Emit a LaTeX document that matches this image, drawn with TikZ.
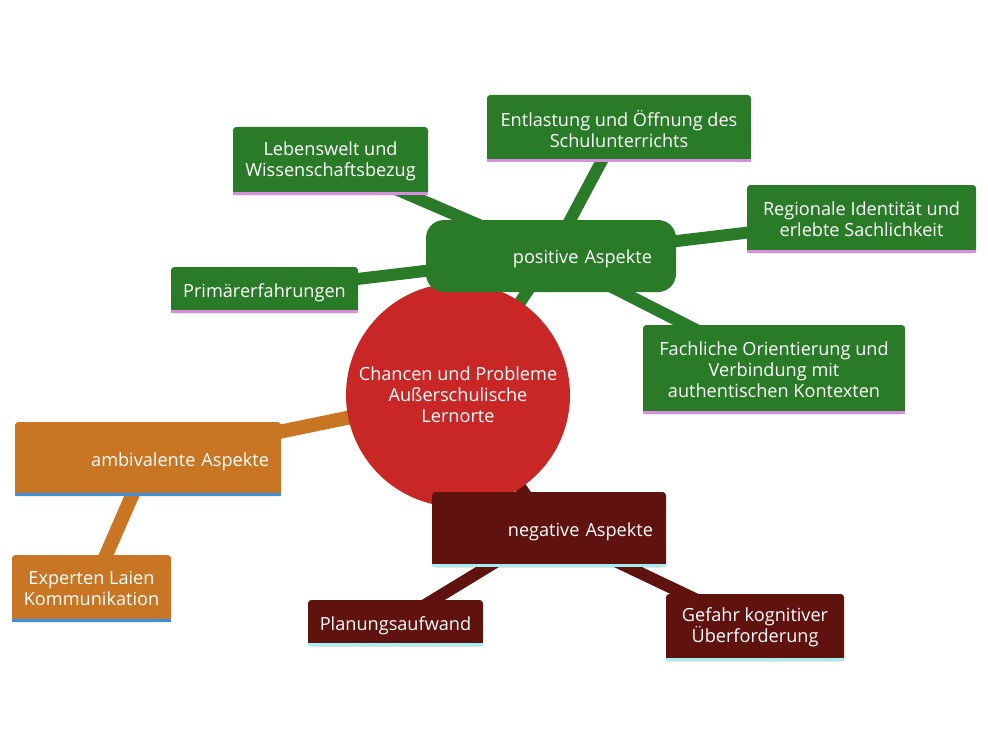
\documentclass[tikz,border=0pt]{standalone}
\usepackage{fontspec}
\setmainfont{Open Sans}
\definecolor{cgreen}{HTML}{2A7B27}
\definecolor{cred}{HTML}{C92626}
\definecolor{corange}{HTML}{C87624}
\definecolor{cdark}{HTML}{60120F}
\definecolor{cpink}{HTML}{D98DE0}
\definecolor{cblue}{HTML}{3D8FE0}
\definecolor{ccyan}{HTML}{A3EEF2}
\begin{document}
\begin{tikzpicture}[x=0.75pt,y=-0.75pt,
  txt/.style={text=white,font=\fontsize{13.6}{15.75}\selectfont},
  box/.style={txt,rectangle,rounded corners=2.5pt,inner sep=0pt,align=center,
    execute at begin node={\rule{0pt}{13.8pt}}},
  gbox/.style={box,fill=cgreen},
  obox/.style={box,fill=corange},
  dbox/.style={box,fill=cdark},
  gline/.style={draw=cgreen,line width=9pt},
  oline/.style={draw=corange,line width=10.5pt},
  dline/.style={draw=cdark,line width=9pt},
  uline/.style={line width=2.4pt}]
\useasboundingbox (0,0) rectangle (988,756);
\coordinate (cc) at (458,395);
\coordinate (posc) at (551,256);
\coordinate (lebc) at (330.5,161);
\coordinate (entc) at (619,128.5);
\coordinate (regc) at (861.5,219);
\coordinate (pric) at (264.5,290);
\coordinate (facc) at (774,369.5);
\coordinate (ambc) at (148,459);
\coordinate (expc) at (91.5,588.5);
\coordinate (negc) at (549,529.5);
\coordinate (plac) at (395.5,623);
\coordinate (gefc) at (755,627.5);
% connectors behind everything
\draw[gline] (cc) -- (posc);
\draw[gline] (posc) -- (lebc);
\draw[gline] (posc) -- (entc);
\draw[gline] (posc) -- (regc);
\draw[gline] (posc) -- (pric);
\draw[gline] (posc) -- (facc);
\draw[oline] (cc) -- (ambc);
\draw[oline] (ambc) -- (expc);
\draw[dline] (cc) -- (negc);
\draw[dline] (negc) -- (plac);
\draw[dline] (negc) -- (gefc);
% central circle
\node[circle,fill=cred,minimum size=168pt,inner sep=0pt,txt,align=center] (center) at (cc)
  {Chancen und Probleme\\Außerschulische\\Lernorte};
% positive branch
\node[gbox,rounded corners=13.5pt,minimum width=187.5pt,minimum height=54pt,
  inner xsep=18pt,text width=151.5pt,align=right] (pos) at (posc) {positive Aspekte};
\node[gbox,minimum width=146.25pt,minimum height=51pt] (leb) at (lebc) {Lebenswelt und\\Wissenschaftsbezug};
\node[gbox,minimum width=198pt,minimum height=50.25pt] (ent) at (entc) {Entlastung und Öffnung des\\Schulunterrichts};
\node[gbox,minimum width=171.75pt,minimum height=51pt] (reg) at (regc) {Regionale Identität und\\erlebte Sachlichkeit};
\node[gbox,minimum width=140.25pt,minimum height=34.5pt] (pri) at (pric) {Primärerfahrungen};
\node[gbox,minimum width=196.5pt,minimum height=66.75pt] (fac) at (facc) {Fachliche Orientierung und\\Verbindung mit\\authentischen Kontexten};
\foreach \n in {leb,ent,reg,pri,fac}
  \draw[uline,cpink] ([yshift=1.2pt]\n.south west) -- ([yshift=1.2pt]\n.south east);
% ambivalent branch
\node[obox,minimum width=199.5pt,minimum height=55.5pt,inner xsep=9pt,text width=181.5pt,align=right] (amb) at (ambc) {ambivalente Aspekte};
\node[obox,minimum width=119.25pt,minimum height=50.25pt] (exp) at (expc) {Experten Laien\\Kommunikation};
\foreach \n in {amb,exp}
  \draw[uline,cblue] ([yshift=1.2pt]\n.south west) -- ([yshift=1.2pt]\n.south east);
% negative branch
\node[dbox,minimum width=175.5pt,minimum height=56.25pt,inner xsep=9.75pt,text width=156pt,align=right] (neg) at (negc) {negative Aspekte};
\node[dbox,minimum width=131.25pt,minimum height=34.5pt] (pla) at (plac) {Planungsaufwand};
\node[dbox,minimum width=133.5pt,minimum height=50.25pt] (gef) at (gefc) {Gefahr kognitiver\\Überforderung};
\foreach \n in {neg,pla,gef}
  \draw[uline,ccyan] ([yshift=1.2pt]\n.south west) -- ([yshift=1.2pt]\n.south east);
\end{tikzpicture}
\end{document}
